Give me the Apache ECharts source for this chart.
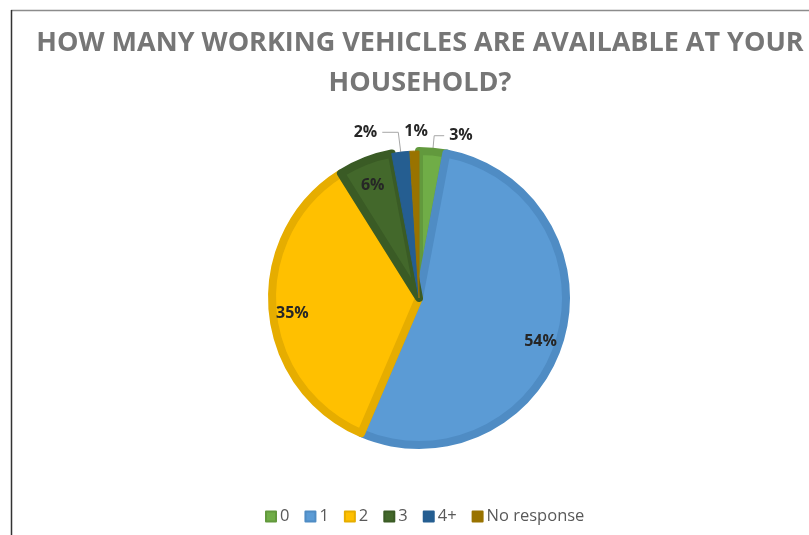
<!DOCTYPE html>
<html>
<head>
<meta charset="utf-8">
<script src="https://cdn.jsdelivr.net/npm/echarts@6/dist/echarts.min.js"></script>
<style>html,body{margin:0;padding:0;background:#fff;}#c{width:809px;height:535px;}</style>
</head>
<body>
<div id="c"></div>
<script>
var titleText = 'HOW MANY WORKING VEHICLES ARE AVAILABLE AT YOUR\nHOUSEHOLD?';
var categories = ['0', '1', '2', '3', '4+', 'No response'];
var values = [3, 54, 35, 6, 2, 1];
var fillColors = ['#70AD47', '#5B9BD5', '#FFC000', '#43682B', '#255E91', '#997300'];
var borderColors = ['#62993D', '#4F8CC4', '#E6AD00', '#3A5B25', '#1F5384', '#86650A'];
var insideLabel = [false, true, true, true, false, false];

var chart = echarts.init(document.getElementById('c'), null, {renderer: 'canvas'});
var cx = 419, cy = 298;

var mainData = categories.map(function (c, i) {
  var small = values[i] <= 2;
  var d = {
    name: c, value: values[i],
    itemStyle: {color: fillColors[i], borderColor: small ? fillColors[i] : borderColors[i], borderWidth: small ? 1 : 8},
    label: {show: !insideLabel[i]},
    labelLine: {show: !insideLabel[i]}
  };
  if (c === 'No response') { d.labelLine = {show: false}; }
  if (c === '0') { d.labelLine = {show: true, length: 16, length2: 10}; }
  return d;
});
var labelData = categories.map(function (c, i) {
  return {
    name: c, value: values[i],
    itemStyle: {color: 'rgba(0,0,0,0)', borderWidth: 0},
    label: {show: insideLabel[i]}
  };
});

chart.setOption({
  animation: false,
  title: {
    text: titleText,
    left: 415,
    textAlign: 'center',
    top: 18,
    textStyle: {fontFamily: 'Open Sans', fontWeight: 'bold', fontSize: 27, color: '#767676', lineHeight: 40}
  },
  legend: {
    data: categories,
    bottom: 5,
    left: 260,
    icon: 'rect',
    itemWidth: 10,
    itemHeight: 10,
    itemGap: 15,
    textStyle: {fontFamily: 'Open Sans', fontSize: 16.5, color: '#595959', padding: [0, 0, 0, -1]}
  },
  graphic: [
    {type: 'line', shape: {x1: 11, y1: 10.5, x2: 809, y2: 10.5}, style: {stroke: '#8c8c8c', lineWidth: 1.5}, silent: true},
    {type: 'line', shape: {x1: 11.5, y1: 10, x2: 11.5, y2: 535}, style: {stroke: '#333333', lineWidth: 1.5}, silent: true}
  ],
  series: [
    {
      type: 'pie',
      center: [cx, cy],
      radius: [0, 147],
      startAngle: 90,
      clockwise: true,
      avoidLabelOverlap: false,
      label: {
        position: 'outside',
        formatter: '{c}%',
        fontFamily: 'Open Sans', fontWeight: 'bold', fontSize: 16, color: '#262626'
      },
      labelLine: {length: 20, length2: 16, lineStyle: {color: '#a6a6a6', width: 1}},
      labelLayout: function (p) {
        if (p.dataIndex === 5) { return {dx: 35, dy: 0}; }
        return {};
      },
      emphasis: {disabled: true},
      data: mainData
    },
    {
      type: 'pie',
      center: [cx, cy],
      radius: [100, 148],
      startAngle: 90,
      clockwise: true,
      silent: true,
      legendHoverLink: false,
      label: {
        position: 'inside',
        formatter: '{c}%',
        offset: [0, 6],
        fontFamily: 'Open Sans', fontWeight: 'bold', fontSize: 16, color: '#262626'
      },
      labelLine: {show: false},
      emphasis: {disabled: true},
      data: labelData
    }
  ]
});
</script>
</body>
</html>
